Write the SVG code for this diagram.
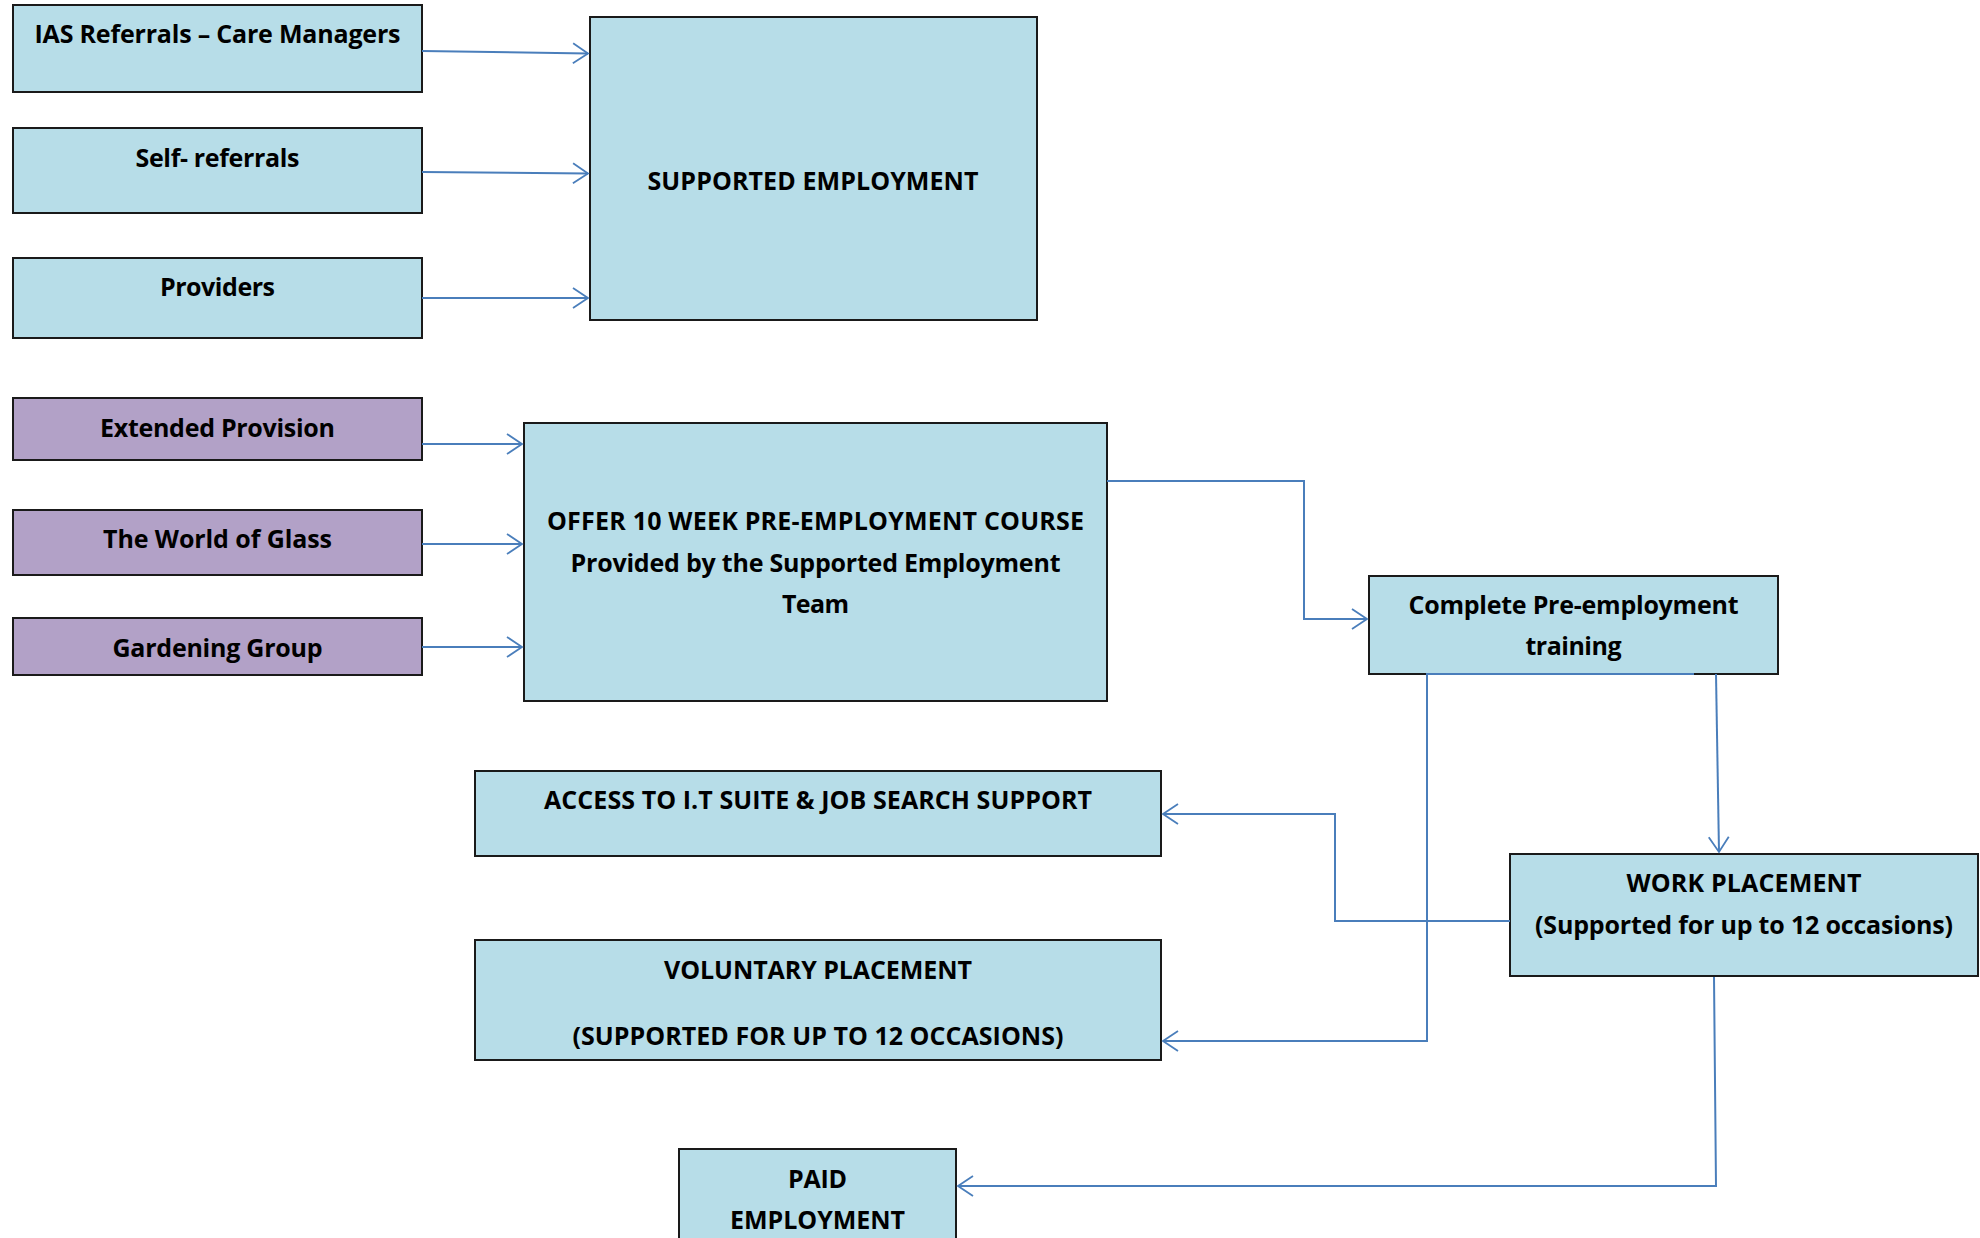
<svg xmlns="http://www.w3.org/2000/svg" width="1980" height="1238" viewBox="0 0 1980 1238">
<defs>
<style>
.box{fill:#B7DDE8;stroke:#1a1a1a;stroke-width:2}
.pbox{fill:#B2A1C7;stroke:#1a1a1a;stroke-width:2}
.t{font-family:"Open Sans",Lato,"Liberation Sans",sans-serif;font-weight:bold;font-size:25px;fill:#000;text-anchor:middle}
.c{fill:none;stroke:#4A7EBB;stroke-width:2}
</style>
<marker id="arr" markerUnits="userSpaceOnUse" markerWidth="22" markerHeight="26" viewBox="-17 -13 20 26" refX="0" refY="0" orient="auto">
<path d="M-15,-10 L0,0 L-15,10" fill="none" stroke="#4A7EBB" stroke-width="1.8"/>
</marker>
</defs>
<rect width="1980" height="1238" fill="#fff"/>
<g id="n-ias"><rect class="box" x="13" y="5" width="409" height="87"/><text class="t" x="217.5" y="43" textLength="366">IAS Referrals – Care Managers</text></g>
<g id="n-self"><rect class="box" x="13" y="128" width="409" height="85"/><text class="t" x="217.5" y="167" textLength="164">Self- referrals</text></g>
<g id="n-prov"><rect class="box" x="13" y="258" width="409" height="80"/><text class="t" x="217.5" y="296" textLength="115">Providers</text></g>
<g id="n-se"><rect class="box" x="590" y="17" width="447" height="303"/><text class="t" x="813" y="190" textLength="331">SUPPORTED EMPLOYMENT</text></g>
<g id="n-ext"><rect class="pbox" x="13" y="398" width="409" height="62"/><text class="t" x="217.5" y="437" textLength="235">Extended Provision</text></g>
<g id="n-wog"><rect class="pbox" x="13" y="510" width="409" height="65"/><text class="t" x="217.5" y="548" textLength="229">The World of Glass</text></g>
<g id="n-gard"><rect class="pbox" x="13" y="618" width="409" height="57"/><text class="t" x="217.5" y="657" textLength="210">Gardening Group</text></g>
<g id="n-offer"><rect class="box" x="524" y="423" width="583" height="278"/>
<text class="t" x="815.5" y="530" textLength="537">OFFER 10 WEEK PRE-EMPLOYMENT COURSE</text>
<text class="t" x="815.5" y="572" textLength="490">Provided by the Supported Employment</text>
<text class="t" x="815.5" y="613" textLength="67">Team</text></g>
<g id="n-complete"><rect class="box" x="1369" y="576" width="409" height="98"/>
<text class="t" x="1573.5" y="614" textLength="330">Complete Pre-employment</text>
<text class="t" x="1573.5" y="655" textLength="96">training</text></g>
<g id="n-access"><rect class="box" x="475" y="771" width="686" height="85"/><text class="t" x="818" y="809" textLength="548">ACCESS TO I.T SUITE &amp; JOB SEARCH SUPPORT</text></g>
<g id="n-work"><rect class="box" x="1510" y="854" width="468" height="122"/>
<text class="t" x="1744" y="892" textLength="235">WORK PLACEMENT</text>
<text class="t" x="1744" y="934" textLength="418">(Supported for up to 12 occasions)</text></g>
<g id="n-vol"><rect class="box" x="475" y="940" width="686" height="120"/>
<text class="t" x="818" y="979" textLength="308">VOLUNTARY PLACEMENT</text>
<text class="t" x="818" y="1045" textLength="491">(SUPPORTED FOR UP TO 12 OCCASIONS)</text></g>
<g id="n-paid"><rect class="box" x="679" y="1149" width="277" height="120"/>
<text class="t" x="817.5" y="1188" textLength="59">PAID</text>
<text class="t" x="817.5" y="1229" textLength="175">EMPLOYMENT</text></g>
<g id="connectors">
<path class="c" d="M422,51 L588,53.5" marker-end="url(#arr)"/>
<path class="c" d="M422,172 L588,173.5" marker-end="url(#arr)"/>
<path class="c" d="M422,298 L588,298" marker-end="url(#arr)"/>
<path class="c" d="M422,444 L522,444" marker-end="url(#arr)"/>
<path class="c" d="M422,544 L522,544" marker-end="url(#arr)"/>
<path class="c" d="M422,647 L522,647" marker-end="url(#arr)"/>
<path class="c" d="M1107,481 L1304,481 L1304,619 L1367,619" marker-end="url(#arr)"/>
<path class="c" d="M1716,674 L1719,852" marker-end="url(#arr)"/>
<path class="c" d="M1694,674 L1427,674 L1427,1041 L1163,1041" marker-end="url(#arr)"/>
<path class="c" d="M1510,921 L1335,921 L1335,814 L1163,814" marker-end="url(#arr)"/>
<path class="c" d="M1714,977 L1716,1186 L958,1186" marker-end="url(#arr)"/>
</g>
</svg>
